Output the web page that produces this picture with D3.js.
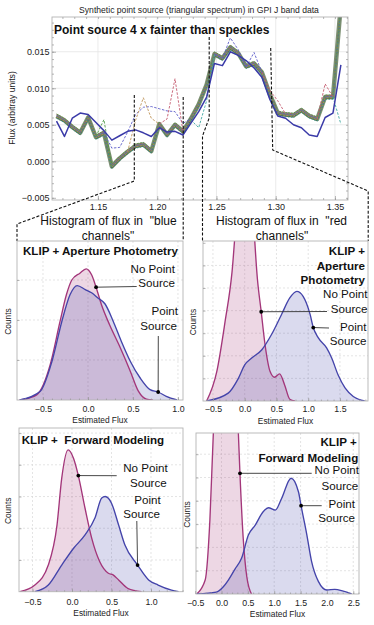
<!DOCTYPE html>
<html>
<head>
<meta charset="utf-8">
<script src="https://cdn.jsdelivr.net/npm/d3@7"></script>
<style>
  body { margin: 0; background: #fff; }
  svg { display: block; font-family: "Liberation Sans", Arial, Helvetica, sans-serif; }
</style>
</head>
<body>
<svg id="chart" width="374" height="625"></svg>
<script>
// ---------------- data ----------------
// GPI J band channels (microns)
const wavelengths = [
  1.1150, 1.1217, 1.1283, 1.1350, 1.1417, 1.1483, 1.1550, 1.1617, 1.1683, 1.1750,
  1.1817, 1.1883, 1.1950, 1.2017, 1.2083, 1.2150, 1.2217, 1.2283, 1.2350, 1.2417,
  1.2483, 1.2550, 1.2617, 1.2683, 1.2750, 1.2817, 1.2883, 1.2950, 1.3017, 1.3083,
  1.3150, 1.3217, 1.3283, 1.3350, 1.3417, 1.3483, 1.3550,
];
// injected spectrum (solid blue)
const trueSpectrum = [
  0.0055, 0.0034, 0.0059, 0.0066, 0.0064, 0.0053, 0.0042, 0.0029, 0.0035, 0.0041,
  0.0043, 0.0039, 0.0034, 0.0046, 0.0040, 0.0041, 0.0036, 0.0052, 0.0068, 0.0088,
  0.0134, 0.0131, 0.0150, 0.0145, 0.0138, 0.0128, 0.0115, 0.0085, 0.0062, 0.0059,
  0.0050, 0.0046, 0.0036, 0.0034, 0.0060, 0.0066, 0.0132,
];
// centre of the bundle of extracted spectra
const extractedBundle = [
  0.0062, 0.0056, 0.0047, 0.0039, 0.0060, 0.0033, 0.0039, -0.0007, 0.0004, 0.0013,
  0.0021, 0.0023, 0.0014, 0.0051, 0.0036, 0.0050, 0.0041, 0.0058, 0.0078, 0.0105,
  0.0147, 0.0141, 0.0156, 0.0148, 0.0130, 0.0134, 0.0122, 0.0092, 0.0066, 0.0064,
  0.0063, 0.0070, 0.0062, 0.0058, 0.0088, 0.0088, 0.0215,
];
// extracted spectra that leave the bundle (first channel + values)
const strayBlueA = { start: 6, values: [0.0040, 0.0018, 0.0019, 0.0040, 0.0064, 0.0074, 0.0075, 0.0072, 0.0069, 0.0068, 0.0052, 0.0058] };
const strayBlueB = { start: 20, values: [0.0146, 0.0141, 0.0169, 0.0153, 0.0129, 0.0149, 0.0122] };
const strayBrown = { start: 9, values: [0.0013, 0.0056, 0.0087, 0.0059, 0.0051] };
const strayRedA = { start: 13, values: [0.0051, 0.0058, 0.0113, 0.0041] };
const strayRedB = { start: 26, values: [0.0122, 0.0097, 0.0083, 0.0065] };
const strayRedC = { start: 33, values: [0.0058, 0.0106, 0.0088] };
const strayTealA = { start: 17, values: [0.0057, 0.0046, 0.0083, 0.0146] };
const strayTealB = { start: 35, values: [0.0088, 0.0051] };
const strayGreen = { start: 5, values: [0.0034, 0.0057, -0.0006] };

const topXTicks = [1.15, 1.20, 1.25, 1.30, 1.35];
const topYTicks = [-0.005, 0.0, 0.005, 0.010, 0.015];

// smoothed histograms of estimated flux: [flux, counts]
const apBlueNoSource = [[-0.76, 0], [-0.57, 0.13], [-0.42, 0.88], [-0.31, 1.97], [-0.24, 2.63], [-0.18, 3.0], [-0.09, 3.17], [-0.02, 3.28], [0.04, 3.13], [0.09, 2.82], [0.15, 2.38], [0.24, 1.88], [0.36, 1.3], [0.47, 0.72], [0.56, 0.22], [0.65, 0.02], [0.72, 0]];
const apBlueWithSource = [[-0.76, 0], [-0.53, 0.22], [-0.40, 0.97], [-0.29, 1.97], [-0.20, 2.63], [-0.12, 2.86], [-0.03, 2.76], [0.04, 2.68], [0.11, 2.55], [0.19, 2.40], [0.28, 1.97], [0.37, 1.47], [0.47, 0.97], [0.58, 0.55], [0.69, 0.26], [0.78, 0.20], [0.87, 0.09], [0.99, 0]];
const apRedNoSource = [[-0.60, 0], [-0.44, 1.3], [-0.31, 3.5], [-0.20, 5.7], [-0.12, 8.5], [0.0, 10.5], [0.12, 8.6], [0.20, 5.4], [0.26, 3.95], [0.32, 2.5], [0.40, 1.3], [0.47, 1.05], [0.55, 1.2], [0.63, 0.7], [0.71, 0.08], [0.79, 0]];
const apRedWithSource = [[-0.60, 0], [-0.26, 0.35], [-0.10, 1.0], [0.0, 1.6], [0.11, 1.9], [0.27, 2.27], [0.42, 2.93], [0.58, 3.83], [0.71, 4.56], [0.82, 4.85], [0.92, 4.63], [1.03, 3.83], [1.08, 3.25], [1.16, 2.79], [1.29, 2.35], [1.37, 1.9], [1.47, 1.16], [1.58, 0.58], [1.71, 0.2], [1.89, 0]];
const fmBlueNoSource = [[-0.66, 0], [-0.47, 0.21], [-0.30, 0.84], [-0.19, 2.1], [-0.13, 3.58], [-0.05, 4.47], [0.02, 4.2], [0.08, 3.66], [0.165, 2.63], [0.25, 1.68], [0.35, 0.95], [0.46, 0.58], [0.52, 0.53], [0.59, 0.37], [0.71, 0.1], [0.88, 0]];
const fmBlueWithSource = [[-0.47, 0], [-0.30, 0.21], [-0.13, 0.84], [0.02, 1.37], [0.165, 1.79], [0.29, 2.32], [0.376, 2.95], [0.42, 3.0], [0.50, 2.79], [0.59, 2.1], [0.67, 1.47], [0.83, 0.84], [0.97, 0.37], [1.09, 0.21], [1.26, 0.05], [1.35, 0]];
const fmRedNoSource = [[-0.47, 0], [-0.31, 0.6], [-0.22, 3.2], [-0.155, 6.9], [-0.08, 10], [0.08, 11], [0.26, 10], [0.32, 6.9], [0.35, 5.18], [0.41, 2.46], [0.48, 0.74], [0.57, 0]];
const fmRedWithSource = [[-0.47, 0], [-0.10, 0.08], [0.03, 0.3], [0.13, 0.6], [0.25, 1.05], [0.38, 1.53], [0.51, 2.53], [0.64, 2.96], [0.79, 3.53], [0.89, 3.70], [1.02, 3.6], [1.14, 4.1], [1.32, 4.97], [1.46, 4.39], [1.51, 3.79], [1.62, 2.53], [1.71, 1.39], [1.84, 0.53], [2.0, 0.17], [2.15, 0.2], [2.31, 0.12], [2.47, 0]];

const ticksBlue = [-0.5, 0.0, 0.5, 1.0];
const ticksRedAp = [-0.5, 0.0, 0.5, 1.0, 1.5];
const ticksRedFm = [-0.5, 0.0, 0.5, 1.0, 1.5, 2.0, 2.5];

// ---------------- drawing ----------------
const svg = d3.select("#chart");
const defs = svg.append("defs");
const PINK = "#a3367a";
const BLUE = "#4444aa";
const FRAME = "#b4b4b4";

const addText = (g, t) =>
  g.append("text")
    .attr("x", t.x)
    .attr("y", t.y)
    .attr("text-anchor", t.anchor || "start")
    .attr("font-size", t.size || 11.6)
    .attr("font-weight", t.bold ? "bold" : "normal")
    .attr("fill", t.color || "#111")
    .style("white-space", "pre")
    .text(t.text);

// ----- top spectrum plot -----
const topBox = { x0: 52, x1: 348, y0: 17, y1: 200 };
const xTop = d3.scaleLinear().domain([1.1112, 1.3610]).range([topBox.x0, topBox.x1]);
const yTop = d3.scaleLinear().domain([-0.0053, 0.01976]).range([topBox.y1, topBox.y0]);

defs.append("clipPath").attr("id", "clipTop")
  .append("rect")
  .attr("x", topBox.x0).attr("y", topBox.y0)
  .attr("width", topBox.x1 - topBox.x0).attr("height", topBox.y1 - topBox.y0);

const gTop = svg.append("g");

gTop.selectAll("line.vgrid").data(topXTicks).join("line")
  .attr("class", "vgrid")
  .attr("x1", xTop).attr("x2", xTop)
  .attr("y1", topBox.y0).attr("y2", topBox.y1)
  .attr("stroke", "#e4e4e4").attr("stroke-width", 0.8);
gTop.selectAll("line.hgrid").data(topYTicks.slice(1)).join("line")
  .attr("class", "hgrid")
  .attr("y1", yTop).attr("y2", yTop)
  .attr("x1", topBox.x0).attr("x2", topBox.x1)
  .attr("stroke", "#e4e4e4").attr("stroke-width", 0.8);

const lineTop = d3.line().x((d) => xTop(d[0])).y((d) => yTop(d[1]));
const toPairs = (vals, start = 0) => vals.map((v, i) => [wavelengths[start + i], v]);

const gPlot = gTop.append("g").attr("clip-path", "url(#clipTop)");

// bundle of extracted spectra
gPlot.append("path")
  .datum(toPairs(extractedBundle))
  .attr("d", lineTop)
  .attr("fill", "none")
  .attr("stroke", "#7b8f72")
  .attr("stroke-width", 4.4)
  .attr("stroke-linejoin", "round");

const strands = [
  { color: "#48653f", shift: 1.6, dash: null },
  { color: "#6c746a", shift: 0.2, dash: null },
  { color: "#b85a5a", shift: -1.5, dash: "2,1.5" },
  { color: "#6262b8", shift: -0.6, dash: "2,1.5" },
  { color: "#b8904a", shift: 0.9, dash: "2,1.5" },
  { color: "#36958f", shift: 2.2, dash: "1.5,1.5" },
  { color: "#55944a", shift: -2.1, dash: "2,1" },
];
gPlot.selectAll("path.strand").data(strands).join("path")
  .attr("class", "strand")
  .attr("d", lineTop(toPairs(extractedBundle)))
  .attr("transform", (d) => `translate(0,${d.shift})`)
  .attr("fill", "none")
  .attr("stroke", (d) => d.color)
  .attr("stroke-width", 0.85)
  .attr("stroke-dasharray", (d) => d.dash);

const strays = [
  { s: strayBlueA, color: "#5b5bc8" },
  { s: strayBlueB, color: "#5b5bc8" },
  { s: strayBrown, color: "#c0955a" },
  { s: strayRedA, color: "#c45a6e" },
  { s: strayRedB, color: "#c45a6e" },
  { s: strayRedC, color: "#c45a6e" },
  { s: strayTealA, color: "#3fa8a2" },
  { s: strayTealB, color: "#3fa8a2" },
  { s: strayGreen, color: "#4f9a46" },
];
gPlot.selectAll("path.stray").data(strays).join("path")
  .attr("class", "stray")
  .attr("d", (d) => lineTop(toPairs(d.s.values, d.s.start)))
  .attr("fill", "none")
  .attr("stroke", (d) => d.color)
  .attr("stroke-width", 0.9)
  .attr("stroke-dasharray", "2.5,1.5");

gPlot.append("path")
  .datum(toPairs(trueSpectrum))
  .attr("d", lineTop)
  .attr("fill", "none")
  .attr("stroke", "#3a3aa8")
  .attr("stroke-width", 1.5)
  .attr("stroke-linejoin", "round");

gTop.append("rect")
  .attr("x", topBox.x0).attr("y", topBox.y0)
  .attr("width", topBox.x1 - topBox.x0).attr("height", topBox.y1 - topBox.y0)
  .attr("fill", "none").attr("stroke", FRAME).attr("stroke-width", 0.9);

// frame ticks
const styleAxis = (sel) => {
  sel.select(".domain").remove();
  sel.selectAll(".tick line").attr("stroke", "#999").attr("stroke-width", 0.7);
  sel.selectAll("text").attr("fill", "#222");
};
const topXMinor = d3.range(1.12, 1.361, 0.01);
const topYMinor = d3.range(-0.005, 0.0195, 0.001);
gTop.append("g").attr("transform", `translate(0,${topBox.y1})`)
  .call(d3.axisBottom(xTop).tickValues(topXMinor).tickSize(-2).tickFormat(""))
  .call(styleAxis);
gTop.append("g").attr("transform", `translate(0,${topBox.y0})`)
  .call(d3.axisTop(xTop).tickValues(topXMinor).tickSize(-2).tickFormat(""))
  .call(styleAxis);
gTop.append("g").attr("transform", `translate(${topBox.x0},0)`)
  .call(d3.axisLeft(yTop).tickValues(topYMinor).tickSize(-2).tickFormat(""))
  .call(styleAxis);
gTop.append("g").attr("transform", `translate(${topBox.x1},0)`)
  .call(d3.axisRight(yTop).tickValues(topYMinor).tickSize(-2).tickFormat(""))
  .call(styleAxis);
gTop.append("g").attr("transform", `translate(0,${topBox.y1})`)
  .call(d3.axisBottom(xTop).tickValues(topXTicks).tickSize(-4).tickPadding(3.6).tickFormat(d3.format(".2f")))
  .call(styleAxis)
  .attr("font-size", 9).attr("font-family", null);
gTop.append("g").attr("transform", `translate(${topBox.x0},0)`)
  .call(d3.axisLeft(yTop).tickValues(topYTicks).tickSize(-4).tickPadding(2.5).tickFormat(d3.format(".3f")))
  .call(styleAxis)
  .attr("font-size", 9).attr("font-family", null);

addText(svg, { text: "Synthetic point source (triangular spectrum) in GPI J band data", x: 199, y: 12.5, anchor: "middle", size: 8.6, color: "#222" });
addText(svg, { text: "Point source 4 x fainter than speckles", x: 54, y: 34, bold: true, size: 12 });
svg.append("text")
  .attr("transform", "translate(15,108) rotate(-90)")
  .attr("text-anchor", "middle")
  .attr("font-size", 8.6)
  .attr("fill", "#222")
  .text("Flux (arbitray units)");

// dashed guides from the spectrum down to the histograms
const guides = [
  [[134.3, 95], [134.3, 181], [17, 224], [17, 241]],
  [[183.2, 97], [183.2, 241]],
  [[209.2, 37], [209.2, 118], [202.5, 136], [202.5, 241]],
  [[270.7, 48], [272.7, 150], [368.2, 191], [368.2, 241]],
];
svg.selectAll("path.guide").data(guides).join("path")
  .attr("class", "guide")
  .attr("d", d3.line())
  .attr("fill", "none")
  .attr("stroke", "#111")
  .attr("stroke-width", 1.1)
  .attr("stroke-dasharray", "3,1.8");

addText(svg, { text: "Histogram of flux in  \"blue", x: 108.5, y: 224.8, anchor: "middle", size: 12 });
addText(svg, { text: "channels\"", x: 108, y: 240.2, anchor: "middle", size: 12 });
addText(svg, { text: "Histogram of flux in  \"red", x: 281.5, y: 224.8, anchor: "middle", size: 12 });
addText(svg, { text: "channels\"", x: 282, y: 240.2, anchor: "middle", size: 12 });

// ----- histogram panels -----
const panels = [
  {
    id: "tl", box: { x0: 17, x1: 183, y0: 241, y1: 400 }, xDomain: [-0.789, 1.056], yMax: 3.975,
    ticks: ticksBlue, labelY: 412, titleY: 423, countsX: 11, noSource: apBlueNoSource, withSource: apBlueWithSource,
    texts: [
      { text: "KLIP + Aperture Photometry", x: 23, y: 254.5, bold: true },
      { text: "No Point", x: 175, y: 273, anchor: "end" },
      { text: "Source", x: 175, y: 287.3, anchor: "end" },
      { text: "Point", x: 178, y: 314.7, anchor: "end" },
      { text: "Source", x: 177, y: 329.7, anchor: "end" },
    ],
    pointers: [{ dot: [0.09, 2.82], to: [136.7, 286.5] }, { dot: [0.78, 0.2], to: [158.3, 336] }],
  },
  {
    id: "tr", box: { x0: 203, x1: 368, y0: 241, y1: 401 }, xDomain: [-0.657, 1.942], yMax: 7.08,
    ticks: ticksRedAp, labelY: 412, titleY: 424, countsX: 196, noSource: apRedNoSource, withSource: apRedWithSource,
    texts: [
      { text: "KLIP +", x: 365, y: 255.3, anchor: "end", bold: true },
      { text: "Aperture", x: 365, y: 269.7, anchor: "end", bold: true },
      { text: "Photometry", x: 365, y: 284, anchor: "end", bold: true },
      { text: "No Point", x: 367.5, y: 298, anchor: "end" },
      { text: "Source", x: 367.5, y: 313, anchor: "end" },
      { text: "Point", x: 366.5, y: 331.3, anchor: "end" },
      { text: "Source", x: 366.5, y: 345.3, anchor: "end" },
    ],
    pointers: [{ dot: [0.26, 3.95], to: [327, 311.5] }, { dot: [1.08, 3.25], to: [329, 328] }],
  },
  {
    id: "bl", box: { x0: 19, x1: 183, y0: 428, y1: 591.7 }, xDomain: [-0.671, 1.405], yMax: 5.16,
    ticks: ticksBlue, labelY: 605, titleY: 616, countsX: 11, noSource: fmBlueNoSource, withSource: fmBlueWithSource,
    texts: [
      { text: "KLIP +  Forward Modeling", x: 21.7, y: 444, bold: true },
      { text: "No Point", x: 167.7, y: 472.3, anchor: "end" },
      { text: "Source", x: 166.7, y: 487.3, anchor: "end" },
      { text: "Point", x: 160.7, y: 504, anchor: "end" },
      { text: "Source", x: 160, y: 518.3, anchor: "end" },
    ],
    pointers: [{ dot: [0.08, 3.66], to: [116.7, 475.7] }, { dot: [0.83, 0.84], to: [136.8, 521] }],
  },
  {
    id: "br", box: { x0: 196, x1: 359, y0: 433, y1: 594 }, xDomain: [-0.484, 2.609], yMax: 6.91,
    ticks: ticksRedFm, labelY: 606, titleY: 617, countsX: 190, noSource: fmRedNoSource, withSource: fmRedWithSource,
    texts: [
      { text: "KLIP +", x: 356.7, y: 445.7, anchor: "end", bold: true },
      { text: "Forward Modeling", x: 358.3, y: 461.5, anchor: "end", bold: true },
      { text: "No Point", x: 359, y: 474.3, anchor: "end" },
      { text: "Source", x: 358.3, y: 490, anchor: "end" },
      { text: "Point", x: 355, y: 507.7, anchor: "end" },
      { text: "Source", x: 355, y: 522, anchor: "end" },
    ],
    pointers: [{ dot: [0.351, 5.18], to: [311.7, 473.3] }, { dot: [1.51, 3.79], to: [321.7, 505.7] }],
  },
];

const drawPanel = (p) => {
  const { box } = p;
  const x = d3.scaleLinear().domain(p.xDomain).range([box.x0, box.x1]);
  const y = d3.scaleLinear().domain([0, p.yMax]).range([box.y1, box.y0]);
  const g = svg.append("g").attr("class", `panel-${p.id}`);

  defs.append("clipPath").attr("id", `clip-${p.id}`)
    .append("rect")
    .attr("x", box.x0).attr("y", box.y0)
    .attr("width", box.x1 - box.x0).attr("height", box.y1 - box.y0);

  // dashed grid
  g.selectAll("line.vgrid").data(p.ticks.filter((t) => x(t) > box.x0 + 2 && x(t) < box.x1 - 2)).join("line")
    .attr("class", "vgrid")
    .attr("x1", x).attr("x2", x)
    .attr("y1", box.y0).attr("y2", box.y1)
    .attr("stroke", "#d8d8d8").attr("stroke-width", 0.7).attr("stroke-dasharray", "2,2");
  g.selectAll("line.hgrid").data(d3.range(1, p.yMax).filter((v) => y(v) > box.y0 + 3)).join("line")
    .attr("class", "hgrid")
    .attr("y1", y).attr("y2", y)
    .attr("x1", box.x0).attr("x2", box.x1)
    .attr("stroke", "#d8d8d8").attr("stroke-width", 0.7).attr("stroke-dasharray", "2,2");

  const area = d3.area().x((d) => x(d[0])).y0(y(0)).y1((d) => y(d[1])).curve(d3.curveMonotoneX);
  const line = area.lineY1();
  const gc = g.append("g").attr("clip-path", `url(#clip-${p.id})`);
  const curves = [
    { data: p.noSource, color: PINK },
    { data: p.withSource, color: BLUE },
  ];
  gc.selectAll("path.fill").data(curves).join("path")
    .attr("class", "fill")
    .attr("d", (d) => area(d.data))
    .attr("fill", (d) => d.color)
    .attr("fill-opacity", 0.2);
  gc.selectAll("path.curve").data(curves).join("path")
    .attr("class", "curve")
    .attr("d", (d) => line(d.data))
    .attr("fill", "none")
    .attr("stroke", (d) => d.color)
    .attr("stroke-width", 1.35);

  g.append("rect")
    .attr("x", box.x0).attr("y", box.y0)
    .attr("width", box.x1 - box.x0).attr("height", box.y1 - box.y0)
    .attr("fill", "none").attr("stroke", FRAME).attr("stroke-width", 0.9);

  const minor = d3.range(Math.ceil(p.xDomain[0] * 10) / 10, p.xDomain[1], 0.1);
  g.append("g").attr("transform", `translate(0,${box.y1})`)
    .call(d3.axisBottom(x).tickValues(minor).tickSize(-1.5).tickFormat(""))
    .call(styleAxis);
  const fontSize = 8.8;
  g.append("g").attr("transform", `translate(0,${box.y1})`)
    .call(d3.axisBottom(x).tickValues(p.ticks).tickSize(-3)
      .tickPadding(p.labelY - box.y1 - 0.71 * fontSize).tickFormat(d3.format(".1f")))
    .call(styleAxis)
    .attr("font-size", fontSize).attr("font-family", null);
  g.append("g").attr("transform", `translate(${box.x0},0)`)
    .call(d3.axisLeft(y).tickValues(d3.range(1, p.yMax)).tickSize(-2.5).tickFormat(""))
    .call(styleAxis);

  addText(g, { text: "Estimated Flux", x: (box.x0 + box.x1) / 2, y: p.titleY, anchor: "middle", size: 8.4, color: "#222" });
  g.append("text")
    .attr("transform", `translate(${p.countsX},${(box.y0 + box.y1) / 2 + 1}) rotate(-90)`)
    .attr("text-anchor", "middle")
    .attr("font-size", 8.4)
    .attr("fill", "#222")
    .text("Counts");

  p.texts.forEach((t) => addText(g, t));

  g.selectAll("line.pointer").data(p.pointers).join("line")
    .attr("class", "pointer")
    .attr("x1", (d) => x(d.dot[0])).attr("y1", (d) => y(d.dot[1]))
    .attr("x2", (d) => d.to[0]).attr("y2", (d) => d.to[1])
    .attr("stroke", "#333").attr("stroke-width", 0.9);
  g.selectAll("circle.dot").data(p.pointers).join("circle")
    .attr("class", "dot")
    .attr("cx", (d) => x(d.dot[0])).attr("cy", (d) => y(d.dot[1]))
    .attr("r", 1.9)
    .attr("fill", "#000");
};

panels.forEach(drawPanel);
</script>
</body>
</html>
